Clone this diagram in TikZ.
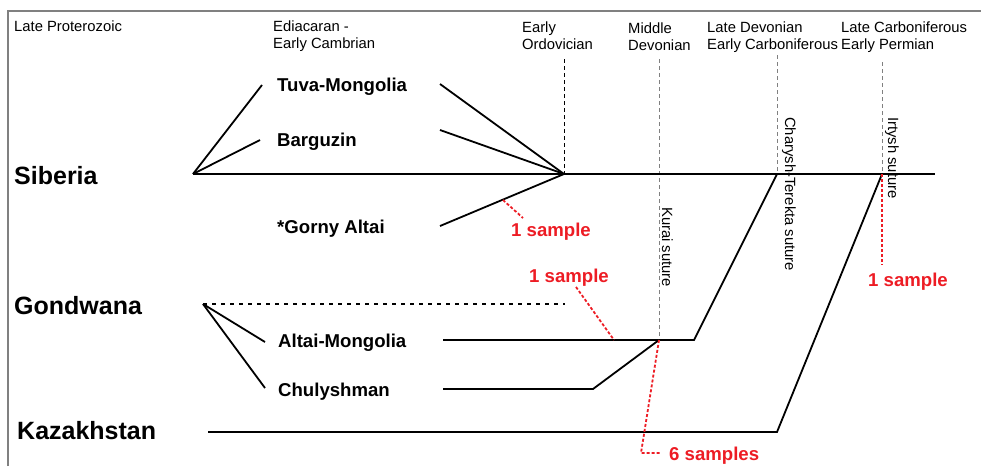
\documentclass[tikz,border=0pt]{standalone}
\usepackage{fontspec}
\setmainfont{Liberation Sans}
\definecolor{redS}{RGB}{237,28,36}
\definecolor{frameg}{RGB}{128,128,128}
\begin{document}
\begin{tikzpicture}[x=1pt,y=-1pt,
  big/.style={font=\fontsize{25}{30}\selectfont\bfseries, inner sep=0pt, anchor=base west},
  terr/.style={font=\fontsize{18.6}{22}\selectfont\bfseries, inner sep=0pt, anchor=base west},
  samp/.style={terr, text=redS},
  era/.style={font=\fontsize{14.8}{17}\selectfont, inner sep=0pt, anchor=north west, align=left},
  suture/.style={font=\fontsize{14.8}{17}\selectfont, inner sep=0pt, rotate=-90, anchor=base west},
  plate/.style={line width=1.8pt, black},
  timeline/.style={line width=0.9pt, dash pattern=on 4pt off 3pt},
  gondline/.style={line width=1.6pt, dash pattern=on 4pt off 5pt},
  reddot/.style={line width=1.8pt, redS, dash pattern=on 3pt off 2pt},
  framel/.style={line width=1.5pt, frameg}
]
\useasboundingbox (0,0) rectangle (981,466);
% frame
\coordinate (fb) at (8,466);
\coordinate (fc) at (8,11);
\coordinate (fr) at (981,11);
\draw[framel] (fb) -- (fc) -- (fr);

% era labels
\node[era] (lp) at (14,21) {Late Proterozoic};
\node[era] (ed) at (273,21) {Ediacaran -\\Early Cambrian};
\node[era] (eo) at (522,22) {Early\\Ordovician};
\node[era] (md) at (628,23) {Middle\\Devonian};
\node[era] (ld) at (707,22) {Late Devonian\\Early Carboniferous};
\node[era] (lc) at (841,22) {Late Carboniferous\\Early Permian};

% big labels
\node[big] (sib) at (14,184) {Siberia};
\node[big] (gon) at (14,314) {Gondwana};
\node[big] (kaz) at (17,439) {Kazakhstan};

% terrane labels
\node[terr] (tuva) at (277,91) {Tuva-Mongolia};
\node[terr] (barg) at (277,146) {Barguzin};
\node[terr] (gorny) at (277,233) {*Gorny Altai};
\node[terr] (altm) at (278,347) {Altai-Mongolia};
\node[terr] (chul) at (278,396) {Chulyshman};

% coordinates
\coordinate (s0) at (193,174);
\coordinate (s1) at (935,174);
\coordinate (eoB) at (564,174);
\coordinate (eoT) at (564,59);
\coordinate (mdT) at (659,59);
\coordinate (mdB) at (659,340);
\coordinate (cdT) at (777,55);
\coordinate (cdB) at (777,174);
\coordinate (irT) at (882,62);
\coordinate (irB) at (882,174);
\coordinate (irR) at (882,265);
\coordinate (tuvaL) at (262,85);
\coordinate (tuvaR) at (440,84);
\coordinate (bargL) at (260,140);
\coordinate (bargR) at (440,130);
\coordinate (gornyR) at (440,226);
\coordinate (g0) at (203,304);
\coordinate (g1) at (565,304);
\coordinate (altL) at (265,342);
\coordinate (altR) at (443,340);
\coordinate (altK) at (694,340);
\coordinate (chuL) at (265,388);
\coordinate (chuR) at (443,389);
\coordinate (chuK) at (593,389);
\coordinate (kz0) at (208,432);
\coordinate (kzK) at (777,432);

% time lines
\draw[timeline, black] (eoT) -- (eoB);
\draw[timeline, frameg] (mdT) -- (mdB);
\draw[timeline, frameg] (cdT) -- (cdB);
\draw[timeline, frameg] (irT) -- (irB);

% plate lines
\draw[plate] (s0) -- (s1);
\draw[plate] (s0) -- (tuvaL);
\draw[plate] (s0) -- (bargL);
\draw[plate] (tuvaR) -- (eoB);
\draw[plate] (bargR) -- (eoB);
\draw[plate] (gornyR) -- (eoB);
\draw[gondline] (g0) -- (g1);
\draw[plate] (g0) -- (altL);
\draw[plate] (g0) -- (chuL);
\draw[plate] (altR) -- (altK) -- (cdB);
\draw[plate] (chuR) -- (chuK) -- (mdB);
\draw[plate] (kz0) -- (kzK) -- (irB);

% suture labels
\node[suture] (kurai) at (662,207) {Kurai suture};
\node[suture] (chary) at (785,117) {Charysh-Terekta suture};
\node[suture] (irty) at (888,117) {Irtysh suture};

% samples
\node[samp] (sm1) at (511,236) {1 sample};
\node[samp] (sm2) at (529,282) {1 sample};
\node[samp] (sm3) at (868,286) {1 sample};
\node[samp] (sm6) at (669,460) {6 samples};

\coordinate (r1a) at (503,200);
\coordinate (r1b) at (523,218);
\coordinate (r2a) at (576,287);
\coordinate (r2b) at (614,340);
\coordinate (r6k) at (641,453);
\coordinate (r6e) at (660,453);
\draw[reddot] (r1a) -- (r1b);
\draw[reddot] (r2a) -- (r2b);
\draw[reddot] (irB) -- (irR);
\draw[reddot] (mdB) -- (r6k) -- (r6e);
\end{tikzpicture}
\end{document}
